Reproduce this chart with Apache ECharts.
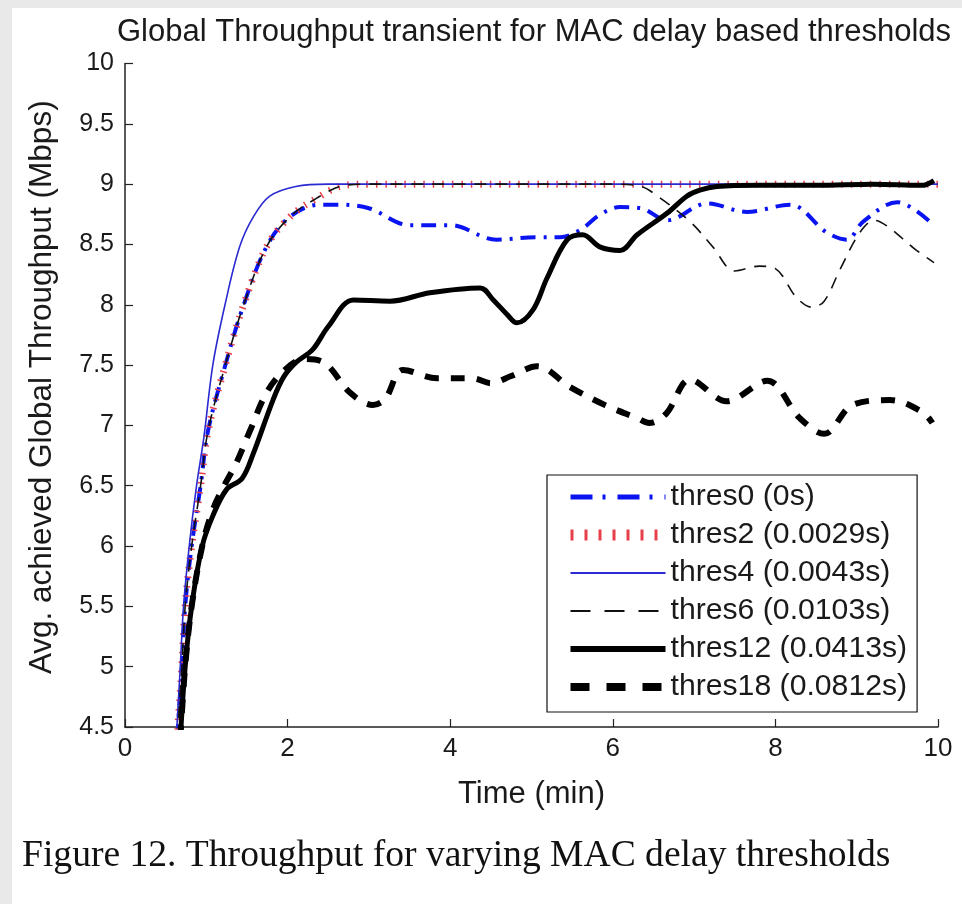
<!DOCTYPE html>
<html>
<head>
<meta charset="utf-8">
<script src="https://cdn.jsdelivr.net/npm/echarts@6.0.0/dist/echarts.min.js"></script>
<style>
  html, body { margin: 0; padding: 0; background: #fff; }
  #chart { width: 962px; height: 904px; }
</style>
</head>
<body>
<div id="chart"></div>
<script>
  // time (min) / throughput (Mbps) per threshold
  var t0 = [0.64, 0.7, 0.74, 0.82, 0.93, 1.02, 1.23, 1.45, 1.74, 2.03, 2.4, 2.6, 3.0, 3.5, 4.0, 4.57, 5.06, 5.35, 5.6, 5.85, 6.09, 6.35, 6.67, 7.16, 7.65, 8.18, 8.63, 8.88, 9.08, 9.5, 9.9]
  var v0 = [4.4, 5.0, 5.5, 6.0, 6.5, 6.95, 7.49, 7.98, 8.48, 8.73, 8.83, 8.83, 8.8, 8.66, 8.66, 8.54, 8.56, 8.56, 8.62, 8.75, 8.81, 8.8, 8.7, 8.84, 8.77, 8.83, 8.6, 8.54, 8.69, 8.85, 8.69]

  var t2 = [0.64, 0.7, 0.74, 0.82, 0.93, 1.02, 1.23, 1.45, 1.74, 2.03, 2.35, 2.7, 3.0, 4, 5, 6, 7, 8, 9, 10]
  var v2 = [4.4, 5.0, 5.5, 6.0, 6.5, 6.95, 7.49, 7.98, 8.48, 8.73, 8.88, 8.99, 9.0, 9.0, 9.0, 9.0, 9.0, 9.0, 9.0, 9.0]

  var t4 = [0.63, 0.68, 0.72, 0.79, 0.88, 0.97, 1.08, 1.23, 1.41, 1.58, 1.78, 2.1, 2.5, 3, 4, 5, 6, 7, 8, 9, 10]
  var v4 = [4.4, 5.0, 5.5, 6.0, 6.5, 6.9, 7.5, 8.0, 8.48, 8.73, 8.9, 8.98, 9.0, 9.0, 9.0, 9.0, 9.0, 9.0, 9.0, 9.0, 9.0]

  var t6 = [0.64, 0.7, 0.74, 0.82, 0.93, 1.02, 1.23, 1.45, 1.74, 2.03, 2.35, 2.7, 3.0, 4, 5, 6, 6.35, 6.55, 6.95, 7.23, 7.5, 7.8, 8.0, 8.26, 8.45, 8.6, 8.8, 9.04, 9.22, 9.4, 9.7, 9.95]
  var v6 = [4.4, 5.0, 5.5, 6.0, 6.5, 6.95, 7.49, 7.98, 8.48, 8.73, 8.88, 8.99, 9.0, 9.0, 9.0, 9.0, 8.98, 8.9, 8.69, 8.48, 8.28, 8.32, 8.3, 8.06, 7.98, 8.03, 8.3, 8.6, 8.7, 8.64, 8.47, 8.35]

  var t12 = [0.68, 0.74, 0.82, 0.95, 1.08, 1.25, 1.44, 1.58, 1.82, 1.95, 2.1, 2.31, 2.5, 2.81, 3.26, 3.75, 4.37, 4.53, 4.7, 4.82, 5.02, 5.19, 5.44, 5.63, 5.84, 6.09, 6.3, 6.67, 6.91, 7.07, 7.28, 7.8, 8.5, 9.2, 9.8, 9.95]
  var v12 = [4.4, 5.0, 5.5, 6.0, 6.25, 6.47, 6.56, 6.77, 7.21, 7.4, 7.52, 7.63, 7.82, 8.04, 8.03, 8.1, 8.14, 8.04, 7.92, 7.85, 7.96, 8.22, 8.54, 8.58, 8.48, 8.45, 8.58, 8.76, 8.9, 8.95, 8.98, 8.99, 8.99, 9.0, 8.99, 9.03]

  var t18 = [0.68, 0.74, 0.82, 0.95, 1.08, 1.22, 1.37, 1.54, 1.74, 1.95, 2.2, 2.45, 2.77, 3.05, 3.2, 3.42, 3.84, 4.28, 4.5, 4.75, 5.07, 5.47, 5.9, 6.3, 6.45, 6.66, 6.95, 7.4, 7.9, 8.3, 8.6, 8.95, 9.41, 9.81, 9.93]
  var v18 = [4.4, 5.0, 5.5, 6.0, 6.3, 6.5, 6.69, 6.96, 7.27, 7.45, 7.55, 7.52, 7.27, 7.17, 7.22, 7.46, 7.39, 7.39, 7.35, 7.41, 7.49, 7.32, 7.17, 7.06, 7.02, 7.1, 7.38, 7.2, 7.37, 7.06, 6.93, 7.17, 7.21, 7.11, 7.02]

  var names = ['thres0 (0s)', 'thres2 (0.0029s)', 'thres4 (0.0043s)', 'thres6 (0.0103s)', 'thres12 (0.0413s)', 'thres18 (0.0812s)']
  var times = [t0, t2, t4, t6, t12, t18]
  var values = [v0, v2, v4, v6, v12, v18]

  var xTicks = [0, 2, 4, 6, 8, 10]

  // line looks: plot style and the (wider) legend sample style
  var looks = [
    {color: '#0a14f0', width: 4, type: [15, 8, 3, 8], legendType: [22, 10, 3, 12], legendWidth: 5},
    {color: '#e8404a', width: 7, type: [1.5, 8], legendType: [3, 11], legendWidth: 11},
    {color: '#2a2ad0', width: 1.6, type: 'solid', legendType: 'solid', legendWidth: 2},
    {color: '#111', width: 1.6, type: [12, 9], legendType: [20, 14], legendWidth: 2},
    {color: '#000', width: 5, type: 'solid', legendType: 'solid', legendWidth: 6},
    {color: '#000', width: 6, type: [14, 12], legendType: [19, 17], legendWidth: 8}
  ]

  var FONT = 'Liberation Sans, Arial, sans-serif'

  var chart = echarts.init(document.getElementById('chart'))

  var series = []
  var legendData = []
  for (var i = 0; i < names.length; i++) {
    var pts = []
    for (var k = 0; k < times[i].length; k++) {
      pts.push([times[i][k], values[i][k]])
    }
    series.push({
      name: names[i],
      type: 'line',
      data: pts,
      smooth: 0.35,
      symbol: 'none',
      clip: true,
      color: looks[i].color,
      lineStyle: {color: looks[i].color, width: looks[i].width, type: looks[i].type, cap: 'butt'},
      z: 2 + i
    })
    legendData.push({
      name: names[i],
      itemStyle: {opacity: 0},
      lineStyle: {color: looks[i].color, width: looks[i].legendWidth, type: looks[i].legendType}
    })
  }

  var option = {
    animation: false,
    backgroundColor: '#e9e9e9',
    graphic: [
      {type: 'rect', z: -100, shape: {x: 12, y: 8, width: 950, height: 896}, style: {fill: '#fff'}},
      {
        type: 'text', left: 22, top: 837,
        style: {text: 'Figure 12. Throughput for varying MAC delay thresholds', fill: '#111',
          font: '37.6px "Liberation Serif", "Times New Roman", serif'}
      }
    ],
    title: {
      text: 'Global Throughput transient for MAC delay based thresholds',
      left: 112,
      top: 12,
      textStyle: {fontFamily: FONT, fontSize: 31, fontWeight: 'normal', color: '#1a1a1a'}
    },
    grid: {left: 125, right: 24, top: 63.5, bottom: 177, outerBoundsMode: 'none'},
    legend: {
      orient: 'vertical',
      left: 547,
      top: 475,
      padding: [3, 10, 6, 18],
      itemWidth: 95,
      itemHeight: 14,
      itemGap: 0,
      backgroundColor: '#fff',
      borderColor: '#111',
      borderWidth: 1.2,
      borderRadius: 0,
      selectedMode: false,
      textStyle: {fontFamily: FONT, fontSize: 30.2, lineHeight: 38, color: '#1a1a1a'},
      data: legendData
    },
    xAxis: {
      type: 'value',
      min: 0,
      max: 10,
      interval: 2,
      name: 'Time (min)',
      nameLocation: 'middle',
      nameGap: 52,
      nameTextStyle: {fontFamily: FONT, fontSize: 31, color: '#1a1a1a'},
      axisLine: {show: true, onZero: false, lineStyle: {color: '#222', width: 1.5}},
      axisTick: {show: true, inside: true, length: 8, lineStyle: {color: '#222', width: 1.2}},
      axisLabel: {fontFamily: FONT, fontSize: 26, color: '#1a1a1a', margin: 9,
        formatter: function (val) { return xTicks.indexOf(val) >= 0 ? String(val) : '' }},
      splitLine: {show: false}
    },
    yAxis: {
      type: 'value',
      min: 4.5,
      max: 10,
      interval: 0.5,
      name: 'Avg. achieved Global Throughput (Mbps)',
      nameLocation: 'middle',
      nameGap: 67,
      nameRotate: 90,
      nameTextStyle: {fontFamily: FONT, fontSize: 31.5, color: '#1a1a1a', padding: [0, 0, 0, 16]},
      axisLine: {show: true, onZero: false, lineStyle: {color: '#222', width: 1.5}},
      axisTick: {show: true, inside: true, length: 8, lineStyle: {color: '#222', width: 1.2}},
      axisLabel: {fontFamily: FONT, fontSize: 25, color: '#1a1a1a', margin: 11},
      splitLine: {show: false}
    },
    series: series
  }

  chart.setOption(option)
</script>
</body>
</html>
